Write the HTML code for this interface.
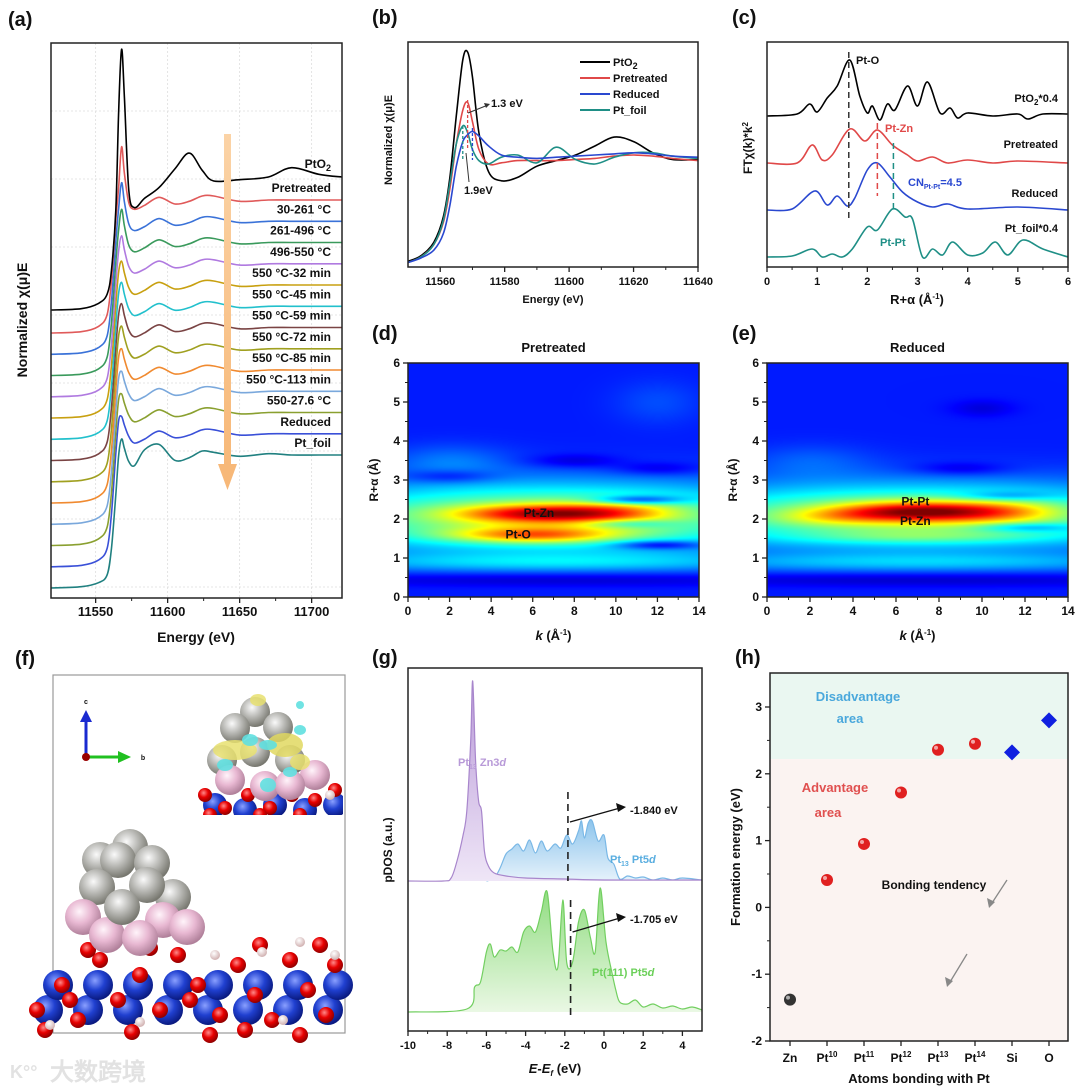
<!DOCTYPE html>
<html><head><meta charset="utf-8">
<style>
html,body{margin:0;padding:0;background:#fff;}
#wrap{position:relative;width:1080px;height:1090px;overflow:hidden;font-family:"Liberation Sans",Arial,sans-serif;}
svg text{font-family:"Liberation Sans",Arial,sans-serif;font-weight:bold;}
canvas{position:absolute;}
</style></head>
<body>
<div id="wrap">
<canvas id="hmD" width="291" height="234" style="left:408px;top:363px;"></canvas>
<canvas id="hmE" width="301" height="234" style="left:767px;top:363px;"></canvas>
<svg id="fig" width="1080" height="1090" style="position:absolute;left:0;top:0" xmlns="http://www.w3.org/2000/svg">
<defs>
<linearGradient id="gPur" x1="0" y1="0" x2="0" y2="1"><stop offset="0" stop-color="#b99ad8"/><stop offset="1" stop-color="#efe6f7"/></linearGradient>
<linearGradient id="gBlu" x1="0" y1="0" x2="0" y2="1"><stop offset="0" stop-color="#8cc4ec"/><stop offset="1" stop-color="#e6f2fb"/></linearGradient>
<linearGradient id="gGrn" x1="0" y1="0" x2="0" y2="1"><stop offset="0" stop-color="#8fdc7f"/><stop offset="1" stop-color="#eaf8e4"/></linearGradient>
<radialGradient id="aGray" cx="0.4" cy="0.35" r="0.65"><stop offset="0" stop-color="#fafafa"/><stop offset="0.5" stop-color="#b8b8b4"/><stop offset="1" stop-color="#77776f"/></radialGradient>
<radialGradient id="aPink" cx="0.4" cy="0.35" r="0.65"><stop offset="0" stop-color="#fff4fa"/><stop offset="0.5" stop-color="#e8b8d2"/><stop offset="1" stop-color="#b0809a"/></radialGradient>
<radialGradient id="aRed" cx="0.4" cy="0.35" r="0.65"><stop offset="0" stop-color="#ff8a8a"/><stop offset="0.5" stop-color="#e80000"/><stop offset="1" stop-color="#900000"/></radialGradient>
<radialGradient id="aBlue" cx="0.4" cy="0.35" r="0.65"><stop offset="0" stop-color="#8aa0ff"/><stop offset="0.5" stop-color="#2040d0"/><stop offset="1" stop-color="#0a1a80"/></radialGradient>
<radialGradient id="aWhite" cx="0.4" cy="0.35" r="0.65"><stop offset="0" stop-color="#ffffff"/><stop offset="1" stop-color="#d0b0b0"/></radialGradient>
<linearGradient id="gArrow" x1="0" y1="0" x2="0" y2="1"><stop offset="0" stop-color="#fbd3a6"/><stop offset="1" stop-color="#f7b878"/></linearGradient>
<clipPath id="clipA"><rect x="51" y="43" width="291" height="555"/></clipPath>
<clipPath id="clipB"><rect x="408" y="42" width="290" height="225"/></clipPath>
<clipPath id="clipInset"><rect x="185" y="680" width="158" height="135"/></clipPath>
</defs>
<g id="root"></g>
</svg>
</div>
<script>
// ---------------- DATA ----------------
// (a) XANES in-situ
const E_A = [11519,11540,11552,11558,11561,11564,11566,11568,11570,11573,11577,11584,11594,11605,11615,11624,11632,11650,11670,11686,11705,11721];
const PTO2_A = [0,0.01,0.05,0.12,0.3,0.75,1.5,1.96,1.6,0.9,0.77,0.84,0.92,1.06,1.18,1.05,0.97,0.98,1.0,1.07,1.02,1.0];
const METAL_A = [0,0.01,0.05,0.14,0.4,0.85,1.1,1.3,1.15,0.98,0.93,0.96,1.02,0.97,0.99,1.03,1.03,0.99,1.0,1.0,1.0,1.0];
const FOIL_A = [0,0.01,0.04,0.1,0.3,0.7,1.0,1.12,1.05,0.95,0.92,1.04,1.08,0.96,0.98,1.03,1.02,0.99,1.01,1.0,1.0,1.0];
const WHITELINE_A = [1.40,1.29,1.25,1.21,1.18,1.18,1.18,1.17,1.16,1.15,1.14,1.13,1.12];
const LABELS_A = ["Pretreated","30-261 °C","261-496 °C","496-550 °C","550 °C-32 min","550 °C-45 min","550 °C-59 min","550 °C-72 min","550 °C-85 min","550 °C-113 min","550-27.6 °C","Reduced","Pt_foil"];
const COLORS_A = ["#e05a5a","#3a72d8","#3a9a5c","#b07ae0","#c8a010","#22c0cc","#7a4444","#a0a020","#f08a30","#7aa8dc","#8aa030","#3a50d8","#208080"];
const XTICKS_A = [11550,11600,11650,11700];
// (b) XANES comparison
const E_B = [11550,11554,11558,11561,11563,11565,11567,11568.5,11570,11572,11575,11579,11584,11590,11596,11602,11608,11614,11620,11626,11632,11640];
const PTO2_B = [0.05,0.1,0.22,0.45,0.8,1.35,1.85,1.92,1.7,1.2,0.85,0.77,0.8,0.9,0.95,1.0,1.08,1.16,1.12,1.02,0.96,0.96];
const PRE_B = [0.04,0.09,0.2,0.4,0.7,1.1,1.4,1.47,1.3,1.05,0.92,0.93,0.95,0.95,0.95,0.96,0.97,0.99,1.0,0.99,0.97,0.95];
const RED_B = [0.04,0.08,0.15,0.3,0.55,0.9,1.12,1.18,1.21,1.17,1.08,1.0,0.98,0.97,0.98,0.99,1.0,1.01,1.02,1.01,0.99,0.98];
const FOIL_B = [0.04,0.09,0.2,0.42,0.75,1.1,1.26,1.2,1.05,0.95,0.92,0.98,1.0,0.93,1.07,0.96,0.92,0.98,1.02,1.02,0.99,0.97];
const XTICKS_B = [11560,11580,11600,11620,11640];
// (c) FT-EXAFS
const R_PTO2 = [0,0.6,0.85,1.0,1.2,1.4,1.65,1.85,2.0,2.1,2.25,2.4,2.55,2.8,3.0,3.2,3.45,3.65,3.8,4.0,4.5,5.0,5.2,5.5,6.0];
const H_PTO2 = [0,2,12,4,18,30,56,20,3,10,-4,12,6,30,10,34,3,8,-2,3,0,2,-3,2,2];
const R_PRE = [0,0.6,0.9,1.1,1.3,1.65,1.95,2.2,2.5,2.8,3.0,3.3,3.6,4.0,4.5,5.0,6.0];
const H_PRE = [0,0,18,3,8,34,22,33,18,8,2,6,0,3,0,2,0];
const R_RED = [0,0.5,0.95,1.2,1.4,1.6,1.75,2.0,2.2,2.45,2.7,3.0,3.3,3.6,4.0,5,6];
const H_RED = [0,1,19,5,14,4,12,40,47,33,18,8,3,6,1,3,0];
const R_FOIL = [0,0.5,0.9,1.1,1.3,1.5,1.7,2.0,2.2,2.5,2.75,2.9,3.1,3.3,3.5,3.7,4.0,4.3,4.55,4.8,5.1,5.5,6.0];
const H_FOIL = [0,1,8,0,3,0,8,30,27,48,40,38,0,8,2,15,2,4,15,2,17,8,0];
const XTICKS_C = [0,1,2,3,4,5,6];
// (d)(e) wavelet blobs: [k, R, amp, sigmaK, sigmaR]
const BLOBS_D = [[7,2.05,0.42,9,0.62],[6.5,2.15,0.4,2.8,0.16],[6,1.6,0.33,2.8,0.14],[10,2.2,0.15,2,0.2],[7,0.9,0.14,9,0.17],[11,2.5,-0.25,1.5,0.08],[12,1.35,-0.2,1.5,0.08],[10.5,1.9,-0.15,1.5,0.08],[7,0.45,-0.08,9,0.12],[2,3.1,-0.1,1.5,0.12],[8,3.5,-0.08,1.5,0.12],[12,3.3,-0.08,1.5,0.12],[2,3.5,0.08,2,0.3],[12,5,0.05,1.5,0.4]];
const BLOBS_E = [[7,2.1,0.4,9,0.58],[7,2.2,0.45,2.8,0.18],[11,2.2,0.15,2,0.2],[3,2.05,0.1,2,0.15],[7,1.55,0.1,4,0.12],[7,0.9,0.14,9,0.17],[12,1.8,-0.15,1.5,0.08],[11,2.6,-0.12,1.5,0.08],[7,0.45,-0.08,9,0.12],[9,3.3,-0.08,1.5,0.12],[10,4.85,-0.06,1,0.15],[2,3.5,0.06,2,0.3]];
const KTICKS = [0,2,4,6,8,10,12,14];
const RTICKS = [0,1,2,3,4,5,6];
// (g) pDOS
const X_ZN = [-10,-8.2,-7.8,-7.5,-7.2,-7.0,-6.8,-6.7,-6.55,-6.4,-6.25,-6.1,-5.9,-5.6,-5,-4,-2,0,5];
const H_ZN = [0,0,3,20,45,70,140,200,120,80,70,30,15,8,5,3,2,1,1];
const X_PT13 = [-6,-5.6,-5.3,-5,-4.7,-4.4,-4.1,-3.8,-3.5,-3.2,-2.9,-2.5,-2.2,-1.9,-1.6,-1.3,-1.15,-1.0,-0.8,-0.6,-0.3,0,0.2,0.5,0.8,1.2,1.6,2,2.5,3,3.5,4,5];
const H_PT13 = [0,3,13,27,32,37,30,41,28,40,30,37,33,46,37,50,60,43,58,60,40,46,23,17,2,5,3,4,1,3,1,3,1];
const X_PT111 = [-10,-7,-6.6,-6.3,-6,-5.8,-5.6,-5.3,-5,-4.7,-4.4,-4.1,-3.8,-3.5,-3.2,-2.9,-2.6,-2.35,-2.1,-1.9,-1.6,-1.3,-1.0,-0.7,-0.45,-0.2,0.1,0.4,0.6,0.8,1.2,1.6,2,2.5,3,3.5,4,4.5,5];
const H_PT111 = [0,3,25,30,60,68,55,62,61,65,60,80,86,80,100,120,60,45,112,49,50,90,102,75,60,124,70,40,22,10,8,12,5,8,4,6,3,5,2];
const XTICKS_G = [-10,-8,-6,-4,-2,0,2,4];
// (h) formation energy
const CATS_H = ["Zn","Pt10","Pt11","Pt12","Pt13","Pt14","Si","O"];
const VALS_H = [-1.38,0.41,0.95,1.72,2.36,2.45,2.32,2.8];
const KIND_H = ["zn","pt","pt","pt","pt","pt","dia","dia"];
const YTICKS_H = [-2,-1,0,1,2,3];

// ---------------- HELPERS ----------------
const NS="http://www.w3.org/2000/svg";
const root=document.getElementById('root');
function el(tag,attrs,parent,txt){const e=document.createElementNS(NS,tag);for(const k in attrs)e.setAttribute(k,attrs[k]);if(txt!==undefined)e.textContent=txt;(parent||root).appendChild(e);return e;}
function grp(name,parent){const g=el('g',{},parent);return g;}
function smooth(p){if(p.length<2)return'';let d='M'+p[0][0].toFixed(1)+','+p[0][1].toFixed(1);for(let i=0;i<p.length-1;i++){const a=p[i-1]||p[i],b=p[i],c=p[i+1],e=p[i+2]||c;const c1=[b[0]+(c[0]-a[0])/6,b[1]+(c[1]-a[1])/6],c2=[c[0]-(e[0]-b[0])/6,c[1]-(e[1]-b[1])/6];d+='C'+c1[0].toFixed(1)+','+c1[1].toFixed(1)+' '+c2[0].toFixed(1)+','+c2[1].toFixed(1)+' '+c[0].toFixed(1)+','+c[1].toFixed(1);}return d;}
function txt(g,x,y,s,size,anchor,fill,extra){const t=el('text',Object.assign({x:x,y:y,'font-size':size,'text-anchor':anchor||'start',fill:fill||'#111'},extra||{}),g);t.innerHTML=s;return t;}
function box(g,x0,y0,x1,y1){el('rect',{x:x0,y:y0,width:x1-x0,height:y1-y0,fill:'none',stroke:'#222','stroke-width':1.5},g);}
function xTicks(g,ticks,fx,y,minor,size){ticks.forEach(v=>{const x=fx(v);el('line',{x1:x,y1:y,x2:x,y2:y+5,stroke:'#222','stroke-width':1.3},g);const t=txt(g,x,y+18,String(v),size||12,'middle');});if(minor)for(let i=0;i<ticks.length-1;i++){const x=fx((ticks[i]+ticks[i+1])/2);el('line',{x1:x,y1:y,x2:x,y2:y+3,stroke:'#222','stroke-width':1},g);}}
function yTicks(g,ticks,fy,x,minor,size){ticks.forEach(v=>{const y=fy(v);el('line',{x1:x,y1:y,x2:x-5,y2:y,stroke:'#222','stroke-width':1.3},g);const t=txt(g,x-8,y+4,String(v),size||12,'end');});if(minor)for(let i=0;i<ticks.length-1;i++){const y=fy((ticks[i]+ticks[i+1])/2);el('line',{x1:x,y1:y,x2:x-3,y2:y,stroke:'#222','stroke-width':1},g);}}
function panelLabel(x,y,s){const t=txt(root,x,y,s,20,'start','#111');}
function vlabel(g,x,y,s,size){const t=el('text',{x:0,y:0,'font-size':size||13,'text-anchor':'middle',fill:'#111',transform:'translate('+x+','+y+') rotate(-90)'},g);t.innerHTML=s;return t;}

// ---------------- PANEL A ----------------
(function(){
const g=grp('panel-a-xanes-insitu');
const xa=E=>51+(E-11519)*1.44;
const gg=grp('grid-a',g);
XTICKS_A.forEach(v=>el('line',{x1:xa(v),y1:43,x2:xa(v),y2:598,stroke:'#ddd','stroke-dasharray':'2,2','stroke-width':0.8},gg));
for(let y=111;y<598;y+=68)el('line',{x1:51,y1:y,x2:342,y2:y,stroke:'#ddd','stroke-dasharray':'2,2','stroke-width':0.8},gg);
const cg=el('g',{'clip-path':'url(#clipA)'},g);
for(let i=LABELS_A.length-1;i>=0;i--){
  const pre=333+i*21.25;
  let vals;
  if(LABELS_A[i]==="Pt_foil") vals=FOIL_A;
  else {const w=WHITELINE_A[i];vals=METAL_A.map((v,j)=>j===7?w:(j===8?(w+1.0)/2:(j===6?Math.min(w,1.1):v)));}
  const p=E_A.map((E,j)=>[xa(E),pre-vals[j]*133]);
  const path=el('path',{d:smooth(p),fill:'none',stroke:COLORS_A[i],'stroke-width':1.6},cg);
  
  
  const lbl=txt(g,331,pre-133-8,LABELS_A[i],12,'end');
  
  
}
const pp=el('path',{d:smooth(E_A.map((E,j)=>[xa(E),310-PTO2_A[j]*133])),fill:'none',stroke:'#000','stroke-width':1.6},cg);


const l0=txt(g,331,168,'PtO<tspan font-size="9" dy="3">2</tspan>',12,'end');


const ar=grp('trend-arrow',g);
el('rect',{x:224,y:134,width:7,height:335,fill:'url(#gArrow)'},ar);
el('polygon',{points:'218,464 237,464 227.5,490',fill:'#f7b878'},ar);
box(g,51,43,342,598);
xTicks(g,XTICKS_A,xa,598,true,13);
const xt=txt(g,196,642,'Energy (eV)',14,'middle');
const yt=vlabel(g,27,320,'Normalized χ(μ)E',14);
})();
panelLabel(8,26,'(a)');

// ---------------- PANEL B ----------------
(function(){
const g=grp('panel-b-xanes');
const xb=E=>408+(E-11550)*290/90, yb=v=>267-v*112;
const cg=el('g',{'clip-path':'url(#clipB)'},g);
const series=[[PTO2_B,'#000','PtO<tspan font-size="9" dy="3">2</tspan>'],[PRE_B,'#e04848','Pretreated'],[RED_B,'#2a48d0','Reduced'],[FOIL_B,'#1f8f86','Pt_foil']];
[0,1,3,2].forEach(i=>{const s=series[i];const p=el('path',{d:smooth(E_B.map((E,j)=>[xb(E),yb(s[0][j])])),fill:'none',stroke:s[1],'stroke-width':1.6},cg);});
const lg=grp('legend-b',g);
series.forEach((s,i)=>{const y=62+i*16;el('line',{x1:580,y1:y,x2:610,y2:y,stroke:s[1],'stroke-width':2},lg);const t=txt(lg,613,y+4,s[2],11,'start');});
const an=grp('annotations-b',g);
el('line',{x1:xb(11568.5),y1:100,x2:xb(11568.5),y2:150,stroke:'#e04848','stroke-dasharray':'3,2','stroke-width':1.3},an);
el('line',{x1:xb(11570),y1:128,x2:xb(11570),y2:160,stroke:'#2a48d0','stroke-dasharray':'3,2','stroke-width':1.3},an);
el('line',{x1:xb(11567),y1:126,x2:xb(11567),y2:160,stroke:'#1f8f86','stroke-dasharray':'3,2','stroke-width':1.3},an);
el('line',{x1:468,y1:113,x2:488,y2:105,stroke:'#333','stroke-width':1},an);
el('polygon',{points:'490,104 484,103 486,108',fill:'#333'},an);
txt(an,491,107,'1.3 eV',11,'start');
el('line',{x1:466,y1:153,x2:469,y2:182,stroke:'#333','stroke-width':1},an);
txt(an,464,194,'1.9eV',11,'start');
box(g,408,42,698,267);
xTicks(g,XTICKS_B,xb,267,true,11);
const xt=txt(g,553,303,'Energy (eV)',11,'middle');
const yt=vlabel(g,392,140,'Normalized χ(μ)E',11);
})();
panelLabel(372,24,'(b)');

// ---------------- PANEL C ----------------
(function(){
const g=grp('panel-c-ft-exafs');
const xc=R=>767+R*301/6;
const series=[[R_PTO2,H_PTO2,116,'#000'],[R_PRE,H_PRE,163,'#e04848'],[R_RED,H_RED,210,'#2a48d0'],[R_FOIL,H_FOIL,257,'#1f8f86']];
series.forEach((s,i)=>{const p=el('path',{d:smooth(s[0].map((R,j)=>[xc(R),s[2]-s[1][j]])),fill:'none',stroke:s[3],'stroke-width':1.6},g);});
el('line',{x1:xc(1.63),y1:52,x2:xc(1.63),y2:219,stroke:'#333','stroke-dasharray':'6,4','stroke-width':1.5},g);
el('line',{x1:xc(2.2),y1:123,x2:xc(2.2),y2:196,stroke:'#e04848','stroke-dasharray':'6,4','stroke-width':1.5},g);
el('line',{x1:xc(2.52),y1:143,x2:xc(2.52),y2:209,stroke:'#1f8f86','stroke-dasharray':'6,4','stroke-width':1.5},g);
txt(g,856,64,'Pt-O',11,'start');
txt(g,1058,102,'PtO<tspan font-size="8" dy="3">2</tspan><tspan dy="-3">*0.4</tspan>',11,'end');
txt(g,1058,148,'Pretreated',11,'end');
txt(g,1058,197,'Reduced',11,'end');
txt(g,1058,232,'Pt_foil*0.4',11,'end');
txt(g,885,132,'Pt-Zn',11,'start','#e04848');
txt(g,908,186,'CN<tspan font-size="7" dy="3">Pt-Pt</tspan><tspan dy="-3">=4.5</tspan>',11,'start','#2a48d0');
txt(g,880,246,'Pt-Pt',11,'start','#1f8f86');
box(g,767,42,1068,267);
xTicks(g,XTICKS_C,xc,267,true,11);
const xt=txt(g,917,304,'R+α (Å<tspan font-size="8" dy="-5">-1</tspan><tspan dy="5">)</tspan>',13,'middle');
const yt=vlabel(g,752,148,'FTχ(k)*k<tspan font-size="8" dy="-4">2</tspan>',12);
})();
panelLabel(732,24,'(c)');

// ---------------- PANELS D,E (heatmaps) ----------------
function jet(v){v=Math.max(0,Math.min(1,v));const c=x=>Math.round(255*Math.max(0,Math.min(1,1.5-Math.abs(x))));return[c(4*v-3),c(4*v-2),c(4*v-1)];}
function drawHeat(id,blobs){const cv=document.getElementById(id),ctx=cv.getContext('2d');const W=cv.width,H=cv.height;const im=ctx.createImageData(W,H);for(let py=0;py<H;py++){const R=6-py/H*6;for(let px=0;px<W;px++){const k=px/W*14;let v=0.15;blobs.forEach(b=>{const dk=(k-b[0])/b[3],dr=(R-b[1])/b[4];v+=b[2]*Math.exp(-0.5*(dk*dk+dr*dr));});const c=jet(v);const o=(py*W+px)*4;im.data[o]=c[0];im.data[o+1]=c[1];im.data[o+2]=c[2];im.data[o+3]=255;}}ctx.putImageData(im,0,0);}
drawHeat('hmD',BLOBS_D);drawHeat('hmE',BLOBS_E);
function heatAxes(name,x0,x1,title,labels){const g=grp(name);const fk=k=>x0+k*(x1-x0)/14,fr=R=>597-R*39;box(g,x0,363,x1,597);xTicks(g,KTICKS,fk,597,true,12);yTicks(g,RTICKS,fr,x0,true,12);txt(g,(x0+x1)/2,352,title,13,'middle');const xt=txt(g,(x0+x1)/2,640,'<tspan font-style="italic">k</tspan> (Å<tspan font-size="8" dy="-5">-1</tspan><tspan dy="5">)</tspan>',13,'middle');const yt=vlabel(g,x0-30,480,'R+α (Å)',12);labels.forEach(l=>{const t=txt(g,fk(l[0]),fr(l[1])+4,l[2],12,'middle','#111');});}
heatAxes('panel-d-wavelet',408,699,'Pretreated',[[6.3,2.15,'Pt-Zn'],[5.3,1.6,'Pt-O']]);
heatAxes('panel-e-wavelet',767,1068,'Reduced',[[6.9,2.45,'Pt-Pt'],[6.9,1.95,'Pt-Zn']]);
panelLabel(372,340,'(d)');
panelLabel(732,340,'(e)');

// ---------------- PANEL F (structure) ----------------
(function(){
const g=grp('panel-f-structure');
el('rect',{x:53,y:675,width:292,height:358,fill:'none',stroke:'#999','stroke-width':1.2},g);
const at=(x,y,r,f,p)=>el('circle',{cx:x,cy:y,r:r,fill:'url(#'+f+')'},p||g);
const sub=grp('substrate',g);
for(let x=40;x<345;x+=40){at(x+8,1010,15,'aBlue',sub);}
for(let x=58;x<345;x+=40){at(x,985,15,'aBlue',sub);}
[[37,1010],[62,985],[78,1020],[100,960],[118,1000],[140,975],[160,1010],[178,955],[198,985],[220,1015],[238,965],[255,995],[272,1020],[290,960],[308,990],[326,1015],[335,965],[45,1030],[132,1032],[210,1035],[300,1035],[88,950],[150,948],[260,945],[320,945],[70,1000],[190,1000],[245,1030]].forEach(p=>at(p[0],p[1],8,'aRed',sub));
[[50,1025],[140,1022],[215,955],[262,952],[300,942],[335,955],[283,1020]].forEach(p=>at(p[0],p[1],5,'aWhite',sub));
const cl=grp('pt-cluster',g);
[[130,847],[100,860],[118,860],[152,863],[97,887],[173,897],[147,885]].forEach(p=>at(p[0],p[1],18,'aGray',cl));
[[83,917],[163,920],[107,935],[140,938],[187,927]].forEach(p=>at(p[0],p[1],18,'aPink',cl));
at(122,907,18,'aGray',cl);
const ins=el('g',{'clip-path':'url(#clipInset)'},g);


[[215,805],[245,810],[275,805],[305,810],[335,805]].forEach(p=>at(p[0],p[1],12,'aBlue',ins));
[[205,795],[225,808],[248,795],[270,808],[292,795],[315,800],[335,790],[210,815],[260,815],[300,815]].forEach(p=>at(p[0],p[1],7,'aRed',ins));
at(330,795,5,'aWhite',ins);
[[255,712],[235,728],[278,727],[222,760],[255,752],[290,760]].forEach(p=>at(p[0],p[1],15,'aGray',ins));
[[230,780],[265,786],[315,775],[290,785]].forEach(p=>at(p[0],p[1],15,'aPink',ins));
[[235,750,22,10,'#e8e070'],[285,745,18,12,'#e0d860'],[300,762,10,8,'#e8e070'],[258,700,8,6,'#e8e070']].forEach(b=>el('ellipse',{cx:b[0],cy:b[1],rx:b[2],ry:b[3],fill:b[4],opacity:0.85},ins));
[[250,740,8,6],[268,745,9,5],[225,765,8,6],[268,785,8,7],[300,730,6,5],[290,772,7,5],[300,705,4,4]].forEach(b=>el('ellipse',{cx:b[0],cy:b[1],rx:b[2],ry:b[3],fill:'#60e0e0',opacity:0.9},ins));
const tr=grp('axis-triad',g);
el('line',{x1:86,y1:757,x2:86,y2:720,stroke:'#1a2ad0','stroke-width':3},tr);
el('polygon',{points:'80,722 92,722 86,710',fill:'#1a2ad0'},tr);
el('line',{x1:86,y1:757,x2:120,y2:757,stroke:'#20c020','stroke-width':3},tr);
el('polygon',{points:'118,751 118,763 131,757',fill:'#20c020'},tr);
el('circle',{cx:86,cy:757,r:4,fill:'#900'},tr);
txt(tr,86,704,'c',7,'middle');
txt(tr,143,760,'b',7,'middle');
})();
panelLabel(15,665,'(f)');
(function(){const t=txt(root,50,1080,'大数跨境',24,'start','#e2e2e2',{'font-family':'"Noto Sans CJK SC",sans-serif'});const t2=txt(root,10,1078,'K°°',18,'start','#e2e2e2');})();

// ---------------- PANEL G ----------------
(function(){
const g=grp('panel-g-pdos');
const xg=e=>408+(e+10)*19.6;
const area=(X,H,base,fill,stroke,name)=>{const pts=X.map((x,j)=>[xg(x),base-H[j]]);const d=smooth(pts);const a=el('path',{d:d+'L'+pts[pts.length-1][0]+','+base+'L'+pts[0][0]+','+base+'Z',fill:fill,stroke:'none'},g);const l=el('path',{d:d,fill:'none',stroke:stroke,'stroke-width':1.2},g);};
area(X_PT13,H_PT13,881,'url(#gBlu)','#7ab8e6','pdos-pt13-pt5d');
area(X_ZN,H_ZN,881,'url(#gPur)','#a886cc','pdos-pt13-zn3d');
area(X_PT111,H_PT111,1012,'url(#gGrn)','#72cf60','pdos-pt111-pt5d');
el('line',{x1:xg(-1.84),y1:792,x2:xg(-1.84),y2:881,stroke:'#222','stroke-dasharray':'7,5','stroke-width':1.6},g);
el('line',{x1:xg(-1.705),y1:900,x2:xg(-1.705),y2:1019,stroke:'#222','stroke-dasharray':'7,5','stroke-width':1.6},g);
el('line',{x1:xg(-1.84)+2,y1:822,x2:620,y2:808,stroke:'#111','stroke-width':1.4},g);
el('polygon',{points:'626,807 616,803 618,812',fill:'#111'},g);
el('line',{x1:xg(-1.705)+2,y1:932,x2:620,y2:918,stroke:'#111','stroke-width':1.4},g);
el('polygon',{points:'626,917 616,913 618,922',fill:'#111'},g);
txt(g,630,814,'-1.840 eV',11,'start');
txt(g,630,923,'-1.705 eV',11,'start');
txt(g,458,766,'Pt<tspan font-size="7" dy="3">13</tspan><tspan dy="-3"> Zn3</tspan><tspan font-style="italic">d</tspan>',11,'start','#b89ad8');
txt(g,610,863,'Pt<tspan font-size="7" dy="3">13</tspan><tspan dy="-3"> Pt5</tspan><tspan font-style="italic">d</tspan>',11,'start','#5aaee0');
txt(g,592,976,'Pt(111) Pt5<tspan font-style="italic">d</tspan>',11,'start','#6cd05a');
box(g,408,668,702,1031);
xTicks(g,XTICKS_G,xg,1031,true,11);
const xt=txt(g,555,1073,'<tspan font-style="italic">E</tspan>-<tspan font-style="italic">E</tspan><tspan font-size="8" dy="3" font-style="italic">f</tspan><tspan dy="-3"> (eV)</tspan>',13,'middle');
const yt=vlabel(g,392,850,'pDOS (a.u.)',12);
})();
panelLabel(372,664,'(g)');

// ---------------- PANEL H ----------------
(function(){
const g=grp('panel-h-formation-energy');
const yh=v=>707-(v-3)*66.8, xh=i=>790+i*37;
el('rect',{x:770,y:673,width:298,height:yh(2.22)-673,fill:'#eaf7f1'},g);
el('rect',{x:770,y:yh(2.22),width:298,height:1041-yh(2.22),fill:'#fbf3f1'},g);
txt(g,858,701,'Disadvantage',13,'middle','#4aa8dc',{'font-weight':'normal'});
txt(g,850,723,'area',13,'middle','#4aa8dc',{'font-weight':'normal'});
txt(g,835,792,'Advantage',13,'middle','#e05050',{'font-weight':'normal'});
txt(g,828,817,'area',13,'middle','#e05050',{'font-weight':'normal'});
txt(g,934,889,'Bonding tendency',12,'middle','#111');
el('line',{x1:1007,y1:880,x2:992,y2:903,stroke:'#888','stroke-width':1.3},g);
el('polygon',{points:'989,908 987,898 995,902',fill:'#888'},g);
el('line',{x1:967,y1:954,x2:950,y2:982,stroke:'#888','stroke-width':1.3},g);
el('polygon',{points:'947,987 945,977 953,981',fill:'#888'},g);
const rg={zn:'#333',pt:'#e02020'};
CATS_H.forEach((c,i)=>{const x=xh(i),y=yh(VALS_H[i]);let m;if(KIND_H[i]==='dia'){m=el('polygon',{points:(x)+','+(y-8)+' '+(x+8)+','+y+' '+x+','+(y+8)+' '+(x-8)+','+y,fill:'#1020e0'},g);}else{m=el('circle',{cx:x,cy:y,r:6,fill:rg[KIND_H[i]]},g);el('circle',{cx:x-2,cy:y-2,r:2,fill:'#fff',opacity:0.6},g);}});
box(g,770,673,1068,1041);
yTicks(g,YTICKS_H,yh,770,true,12);
CATS_H.forEach((c,i)=>{const x=xh(i);el('line',{x1:x,y1:1041,x2:x,y2:1046,stroke:'#222','stroke-width':1.3},g);const lab=c.startsWith('Pt')?'Pt<tspan font-size="8" dy="-5">'+c.slice(2)+'</tspan>':c;const t=txt(g,x,1062,lab,12,'middle');});
const xt=txt(g,919,1083,'Atoms bonding with Pt',13,'middle');
const yt=vlabel(g,740,857,'Formation energy (eV)',13);
})();
panelLabel(735,664,'(h)');
</script>
</body></html>
